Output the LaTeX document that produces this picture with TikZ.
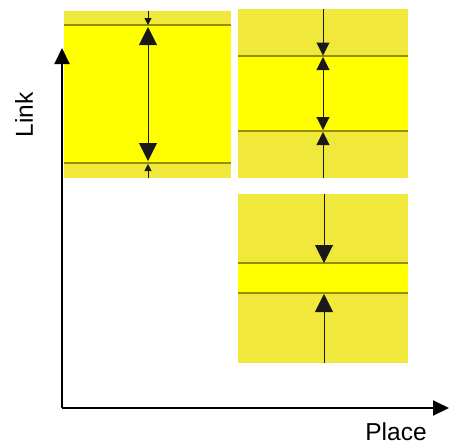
\documentclass[tikz,border=0pt]{standalone}
\usepackage{fontspec}
\setmainfont{Liberation Sans}
\usetikzlibrary{arrows.meta}
\definecolor{outery}{RGB}{240,232,58}
\definecolor{innery}{RGB}{255,255,0}
\definecolor{bandline}{RGB}{150,142,0}
\tikzset{
  axisline/.style={line width=2pt, -{Triangle[length=16pt,width=15pt]}},
  bandrule/.style={draw=bandline, line width=1.4pt},
  dimline/.style={draw=black!90, line width=1pt},
  tipS/.style={-{Triangle[length=7pt,width=7pt]}},
  tipM/.style={-{Triangle[length=13pt,width=13pt]}},
  tipMM/.style={{Triangle[length=13pt,width=13pt]}-{Triangle[length=13pt,width=13pt]}},
  tipL/.style={-{Triangle[length=18pt,width=18pt]}},
  tipLL/.style={{Triangle[length=18pt,width=18pt]}-{Triangle[length=18pt,width=18pt]}},
  lbl/.style={font=\fontsize{24.5}{28}\selectfont, inner sep=0pt}
}
\begin{document}
\begin{tikzpicture}[x=1pt,y=-1pt]
\useasboundingbox (0,0) rectangle (453,445);
% panel 1
\fill[outery] (64,11) rectangle (231,178);
\fill[innery] (64,25) rectangle (231,163);
\draw[bandrule] (64,25) -- (231,25);
\draw[bandrule] (64,163) -- (231,163);
\coordinate (p1t) at (148,11);
\coordinate (p1a) at (148,25);
\coordinate (p1b) at (148,27);
\coordinate (p1c) at (148,161);
\coordinate (p1d) at (148,164);
\coordinate (p1e) at (148,178);
\draw[dimline,tipS] (p1t) -- (p1a);
\draw[dimline,tipLL] (p1b) -- (p1c);
\draw[dimline,tipS] (p1e) -- (p1d);
% panel 2
\fill[outery] (238,9) rectangle (408,178);
\fill[innery] (238,56) rectangle (408,131);
\draw[bandrule] (238,56) -- (408,56);
\draw[bandrule] (238,131) -- (408,131);
\coordinate (p2t) at (323,9);
\coordinate (p2a) at (323,55.5);
\coordinate (p2b) at (323,57);
\coordinate (p2c) at (323,130);
\coordinate (p2d) at (323,132);
\coordinate (p2e) at (323,178);
\draw[dimline,tipM] (p2t) -- (p2a);
\draw[dimline,tipMM] (p2b) -- (p2c);
\draw[dimline,tipM] (p2e) -- (p2d);
% panel 3
\fill[outery] (238,194) rectangle (408,363);
\fill[innery] (238,263) rectangle (408,293);
\draw[bandrule] (238,263) -- (408,263);
\draw[bandrule] (238,293) -- (408,293);
\coordinate (p3t) at (324,194);
\coordinate (p3a) at (324,263);
\coordinate (p3b) at (324,294);
\coordinate (p3e) at (324,363);
\draw[dimline,tipL] (p3t) -- (p3a);
\draw[dimline,tipL] (p3e) -- (p3b);
% axes
\coordinate (origin) at (62,408);
\coordinate (ytip) at (62,48);
\coordinate (xtip) at (449,408);
\draw[axisline] (origin) -- (ytip);
\draw[axisline] (origin) -- (xtip);
\node[lbl, rotate=90] (link) at (24,115) {Link};
\node[lbl] (place) at (396,432) {Place};
\end{tikzpicture}
\end{document}
